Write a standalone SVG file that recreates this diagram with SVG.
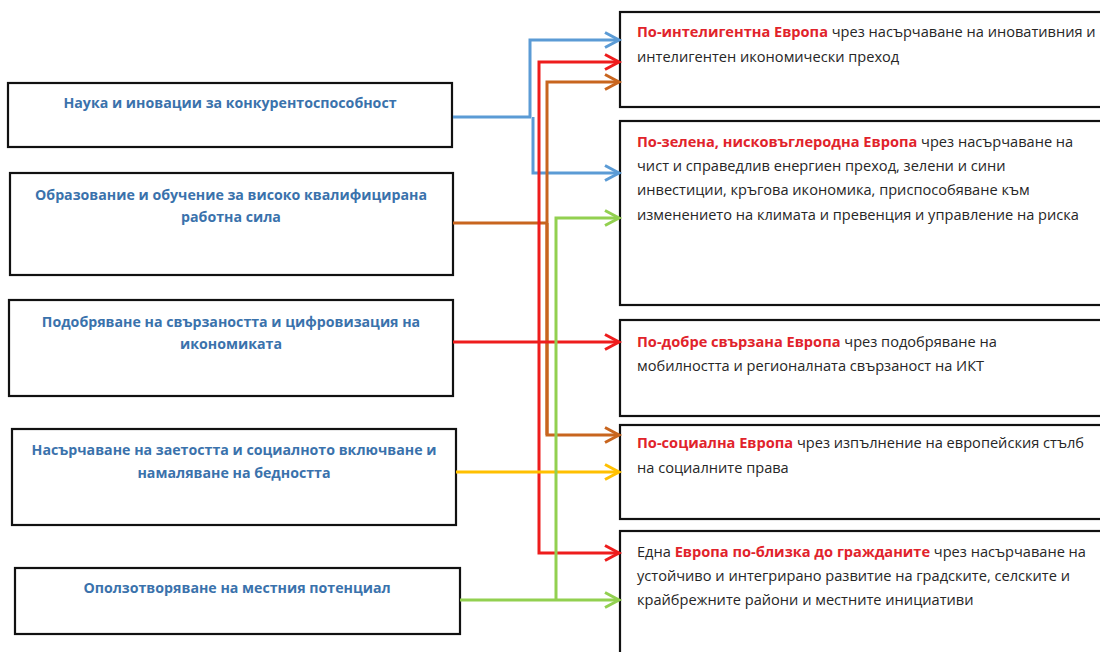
<svg xmlns="http://www.w3.org/2000/svg" width="1100" height="652" viewBox="0 0 1100 652">
  <style>
    .box { fill: #ffffff; stroke: #111111; stroke-width: 2.2; }
    .lt { font-family: "Open Sans", "Liberation Sans", sans-serif; font-weight: bold; font-size: 14.2px; fill: #3A72AC; text-anchor: middle; }
    .rt { font-family: "Open Sans", "Liberation Sans", sans-serif; font-size: 14.6px; fill: #262626; }
    .hl { font-weight: bold; fill: #E1232B; }
    .c { fill: none; stroke-width: 3; stroke-linejoin: miter; }
    .blue { stroke: #5B9BD5; }
    .red { stroke: #EE1C1C; }
    .brown { stroke: #C8651E; }
    .green { stroke: #92D050; }
    .yellow { stroke: #FFC000; }
  </style>
  <defs>
    <marker id="aBlue" markerUnits="userSpaceOnUse" markerWidth="20" markerHeight="20" refX="16" refY="10" orient="auto">
      <path d="M2,2.5 L16,10 L2,17.5" fill="none" stroke="#5B9BD5" stroke-width="3"/>
    </marker>
    <marker id="aRed" markerUnits="userSpaceOnUse" markerWidth="20" markerHeight="20" refX="16" refY="10" orient="auto">
      <path d="M2,2.5 L16,10 L2,17.5" fill="none" stroke="#EE1C1C" stroke-width="3"/>
    </marker>
    <marker id="aBrown" markerUnits="userSpaceOnUse" markerWidth="20" markerHeight="20" refX="16" refY="10" orient="auto">
      <path d="M2,2.5 L16,10 L2,17.5" fill="none" stroke="#C8651E" stroke-width="3"/>
    </marker>
    <marker id="aGreen" markerUnits="userSpaceOnUse" markerWidth="20" markerHeight="20" refX="16" refY="10" orient="auto">
      <path d="M2,2.5 L16,10 L2,17.5" fill="none" stroke="#92D050" stroke-width="3"/>
    </marker>
    <marker id="aYellow" markerUnits="userSpaceOnUse" markerWidth="20" markerHeight="20" refX="16" refY="10" orient="auto">
      <path d="M2,2.5 L16,10 L2,17.5" fill="none" stroke="#FFC000" stroke-width="3"/>
    </marker>
  </defs>
  <rect width="1100" height="652" fill="#ffffff"/>

  <!-- Left nodes -->
  <g id="n-nauka">
    <rect class="box" x="8" y="83" width="444" height="64"/>
    <text class="lt" x="230" y="108">Наука и иновации за конкурентоспособност</text>
  </g>
  <g id="n-obrazovanie">
    <rect class="box" x="10" y="173" width="443" height="102"/>
    <text class="lt" x="231" y="200">Образование и обучение за високо квалифицирана</text>
    <text class="lt" x="231" y="222">работна сила</text>
  </g>
  <g id="n-svarzanost">
    <rect class="box" x="9" y="300" width="444" height="96"/>
    <text class="lt" x="231" y="327">Подобряване на свързаността и цифровизация на</text>
    <text class="lt" x="231" y="349">икономиката</text>
  </g>
  <g id="n-zaetost">
    <rect class="box" x="12" y="429" width="444" height="96"/>
    <text class="lt" x="234" y="455">Насърчаване на заетостта и социалното включване и</text>
    <text class="lt" x="234" y="478">намаляване на бедността</text>
  </g>
  <g id="n-potencial">
    <rect class="box" x="15" y="568" width="445" height="66"/>
    <text class="lt" x="237" y="593">Оползотворяване на местния потенциал</text>
  </g>

  <!-- Right nodes -->
  <g id="n-inteligentna">
    <rect class="box" x="620" y="12" width="490" height="95"/>
    <text class="rt" x="637" y="37"><tspan class="hl">По-интелигентна Европа</tspan> чрез насърчаване на иновативния и</text>
    <text class="rt" x="637" y="62">интелигентен икономически преход</text>
  </g>
  <g id="n-zelena">
    <rect class="box" x="620" y="121" width="490" height="184"/>
    <text class="rt" x="637" y="147"><tspan class="hl">По-зелена, нисковъглеродна Европа</tspan> чрез насърчаване на</text>
    <text class="rt" x="637" y="171">чист и справедлив енергиен преход, зелени и сини</text>
    <text class="rt" x="637" y="195">инвестиции, кръгова икономика, приспособяване към</text>
    <text class="rt" x="637" y="220">изменението на климата и превенция и управление на риска</text>
  </g>
  <g id="n-svarzana">
    <rect class="box" x="620" y="320" width="490" height="96"/>
    <text class="rt" x="637" y="347"><tspan class="hl">По-добре свързана Европа</tspan> чрез подобряване на</text>
    <text class="rt" x="637" y="371">мобилността и регионалната свързаност на ИКТ</text>
  </g>
  <g id="n-socialna">
    <rect class="box" x="620" y="425" width="490" height="94"/>
    <text class="rt" x="637" y="448"><tspan class="hl">По-социална Европа</tspan> чрез изпълнение на европейския стълб</text>
    <text class="rt" x="637" y="473">на социалните права</text>
  </g>
  <g id="n-blizka">
    <rect class="box" x="620" y="531" width="490" height="140"/>
    <text class="rt" x="637" y="557">Една <tspan class="hl">Европа по-близка до гражданите</tspan> чрез насърчаване на</text>
    <text class="rt" x="637" y="581">устойчиво и интегрирано развитие на градските, селските и</text>
    <text class="rt" x="637" y="605">крайбрежните райони и местните инициативи</text>
  </g>

  <!-- Connectors -->
  <g id="connectors">
    <path class="c blue" d="M453,117 L531,117" stroke-width="5"/>
    <path class="c blue" d="M530,117 L530,40 L619,40" marker-end="url(#aBlue)"/>
    <path class="c blue" d="M533,117 L533,173 L619,173" marker-end="url(#aBlue)"/>

    <path class="c brown" d="M453,223 L547,223"/>
    <path class="c brown" d="M547,435 L547,82 L619,82" marker-end="url(#aBrown)"/>
    <path class="c brown" d="M547,223 L547,435 L619,435" marker-end="url(#aBrown)"/>

    <path class="c red" d="M453,342 L619,342" marker-end="url(#aRed)"/>
    <path class="c red" d="M539,342 L539,62 L619,62" marker-end="url(#aRed)"/>
    <path class="c red" d="M539,342 L539,553 L619,553" marker-end="url(#aRed)"/>

    <path class="c yellow" d="M456,472 L619,472" marker-end="url(#aYellow)"/>

    <path class="c green" d="M460,600 L619,600" marker-end="url(#aGreen)"/>
    <path class="c green" d="M556,600 L556,218 L619,218" marker-end="url(#aGreen)"/>
  </g>
</svg>
